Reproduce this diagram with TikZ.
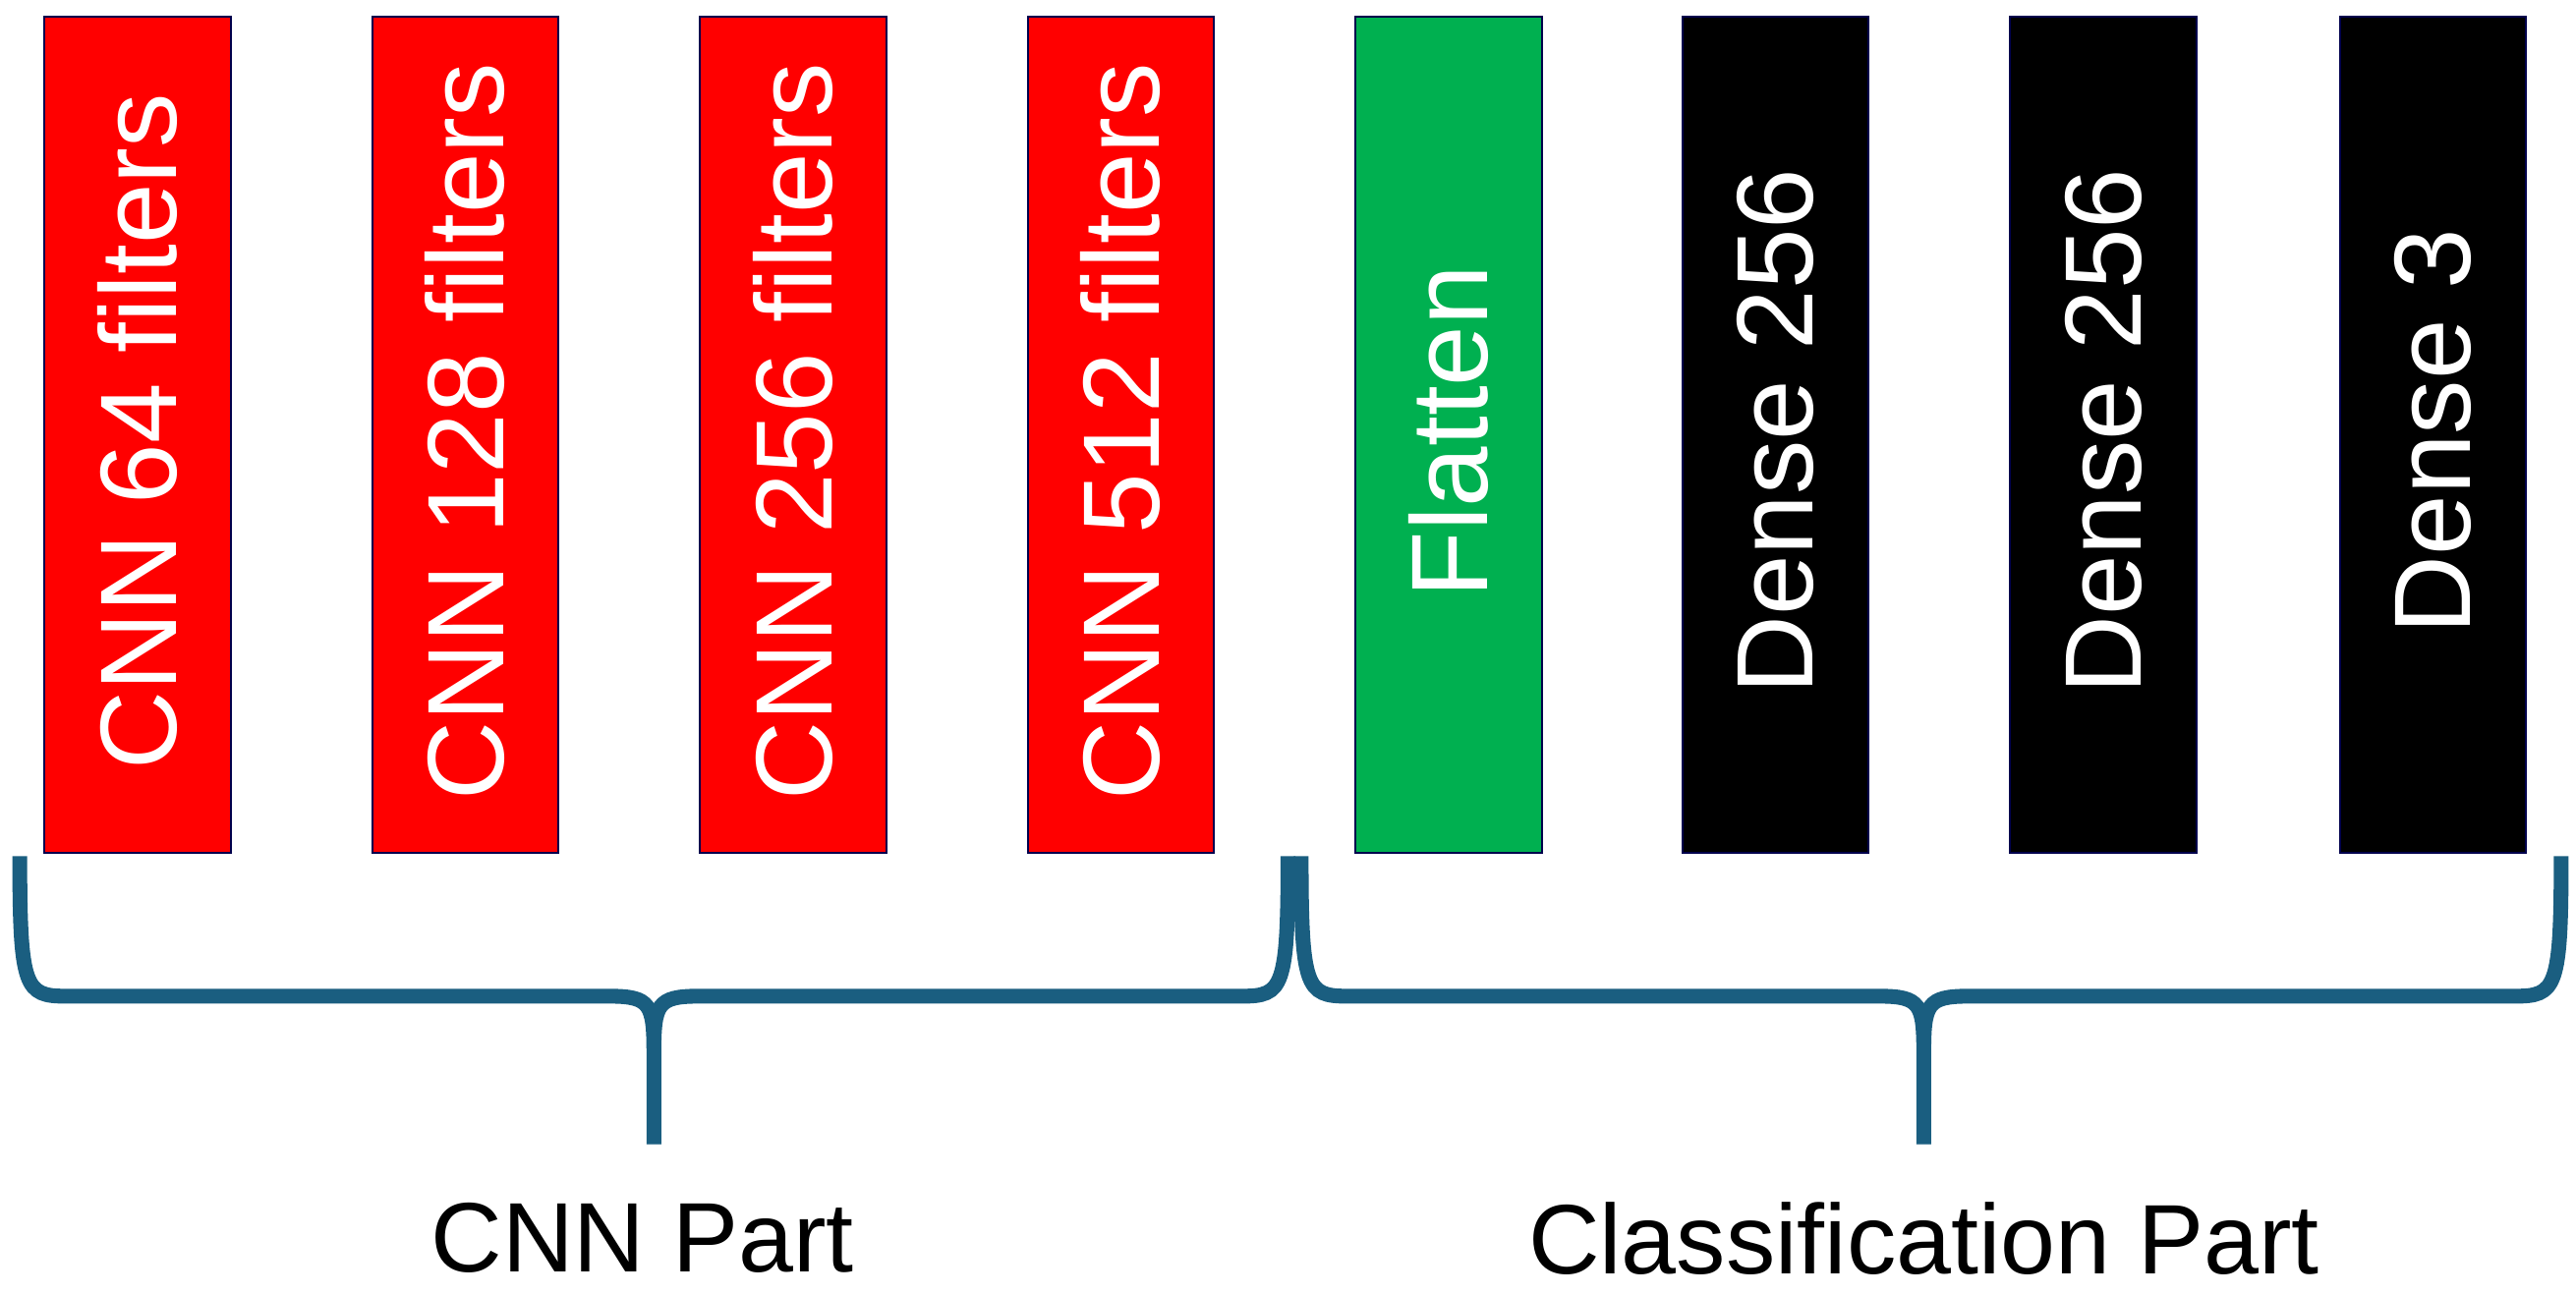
\documentclass[tikz,border=0pt]{standalone}
\usepackage{fontspec}
\setmainfont{Liberation Sans}
\definecolor{brc}{HTML}{1A5E80}
\definecolor{grn}{HTML}{00B050}
\begin{document}
\begin{tikzpicture}[x=0.5pt,y=-0.5pt,
  layer/.style={draw=black!70!blue,line width=0.6pt,minimum width=56.5pt,minimum height=254pt,inner sep=0pt},
  lt/.style={text=white,font=\fontsize{33}{36}\selectfont,rotate=90},
  brace/.style={draw=brc,line width=4.5pt},
  lab/.style={font=\fontsize{30}{34}\selectfont}]
\useasboundingbox (0,0) rectangle (1564,786);
\foreach \x/\n/\c/\t in {83.5/a/red/CNN 64 filters,282.5/b/red/CNN 128 filters,481.5/c/red/CNN 256 filters,680.5/d/red/CNN 512 filters,879.5/e/grn/Flatten,1078/f/black/Dense 256,1277/g/black/Dense 256,1477/h/black/Dense 3}{
  \node[layer,fill=\c] (\n) at (\x,264) {};
  \node[lt] (t\n) at (\x,262) {\t};
}
\path[brace] (12,520) .. controls (12,600) and (15,605) .. (40,605) -- (370,605) .. controls (395,605) and (397,610) .. (397,640) -- (397,695)
  (782,520) .. controls (782,600) and (779,605) .. (754,605) -- (424,605) .. controls (399,605) and (397,610) .. (397,640);
\path[brace] (790,520) .. controls (790,600) and (793,605) .. (818,605) -- (1141,605) .. controls (1166,605) and (1168,610) .. (1168,640) -- (1168,695)
  (1555,520) .. controls (1555,600) and (1552,605) .. (1527,605) -- (1195,605) .. controls (1170,605) and (1168,610) .. (1168,640);
\node[lab] (l1) at (390,752) {CNN Part};
\node[lab] (l2) at (1168,752) {Classification Part};
\end{tikzpicture}
\end{document}
